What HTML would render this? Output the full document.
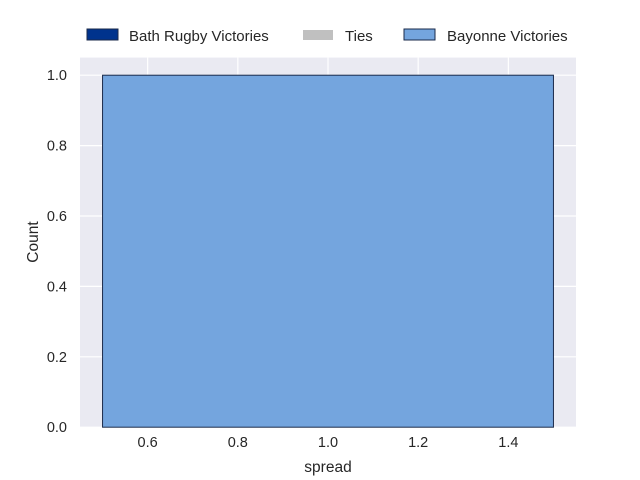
<!DOCTYPE html>
<html><head><meta charset="utf-8"><style>
body{margin:0;background:#fff;}
svg{display:block;font-family:"Liberation Sans",sans-serif;}
</style></head><body>
<svg id="chart" width="640" height="480">
<rect x="80" y="57.6" width="496" height="369.6" fill="#eaeaf2"/>
<g id="grid"></g>
<g id="bars"></g>
<g id="xt"></g>
<g id="yt"></g>
<text x="328" y="472" font-size="15.5" fill="#262626" text-anchor="middle">spread</text>
<text transform="translate(38,242) rotate(-90)" font-size="15.5" fill="#262626" text-anchor="middle">Count</text>
<g font-size="15" fill="#262626">
<g><rect x="87" y="29" width="31" height="11" fill="#00338d" stroke="#1a2a4a" stroke-width="1"/><text x="129" y="41">Bath Rugby Victories</text></g>
<g><rect x="303" y="30" width="30" height="10" fill="#c0c0c0"/><text x="345" y="41">Ties</text></g>
<g><rect x="404" y="29" width="31" height="11" fill="#74a5de" stroke="#1a2a4a" stroke-width="1"/><text x="447" y="41">Bayonne Victories</text></g>
</g>
</svg>
<script>
const binStarts=[0.5];
const binEnds=[1.5];
const counts=[1];
const xTicks=[0.6,0.8,1.0,1.2,1.4];
const yTicks=[0.0,0.2,0.4,0.6,0.8,1.0];
const NS="http://www.w3.org/2000/svg";
const L=80,R=576,T=57.6,B=427.2,xmin=0.45,xmax=1.55,ymin=0,ymax=1.05;
const sx=v=>L+(v-xmin)/(xmax-xmin)*(R-L);
const sy=v=>B-(v-ymin)/(ymax-ymin)*(B-T);
function mk(t,a,p){const e=document.createElementNS(NS,t);for(const k in a)e.setAttribute(k,a[k]);p.appendChild(e);return e;}
const grid=document.getElementById('grid'),bars=document.getElementById('bars'),xt=document.getElementById('xt'),yt=document.getElementById('yt');
xTicks.forEach(v=>{
 const g=mk('line',{x1:sx(v),x2:sx(v),y1:T,y2:B,stroke:'#fff','stroke-width':1.2},grid);
 
 
 const t=mk('text',{x:sx(v),y:B+20,'font-size':14.5,fill:'#262626','text-anchor':'middle'},xt);
 t.textContent=v.toFixed(1);
 
 
});
yTicks.forEach(v=>{
 const g=mk('line',{x1:L,x2:R,y1:sy(v),y2:sy(v),stroke:'#fff','stroke-width':1.2},grid);
 
 
 const t=mk('text',{x:L-13,y:sy(v)+5,'font-size':14.5,fill:'#262626','text-anchor':'end'},yt);
 t.textContent=v.toFixed(1);
 
 
});
counts.forEach((c,i)=>{
 const x0=sx(binStarts[i]),x1=sx(binEnds[i]);
 const r=mk('rect',{x:x0,y:sy(c),width:x1-x0,height:sy(0)-sy(c),fill:'#74a5de',stroke:'#1a2a4a','stroke-width':1},bars);
 
 
});
</script>
</body></html>
